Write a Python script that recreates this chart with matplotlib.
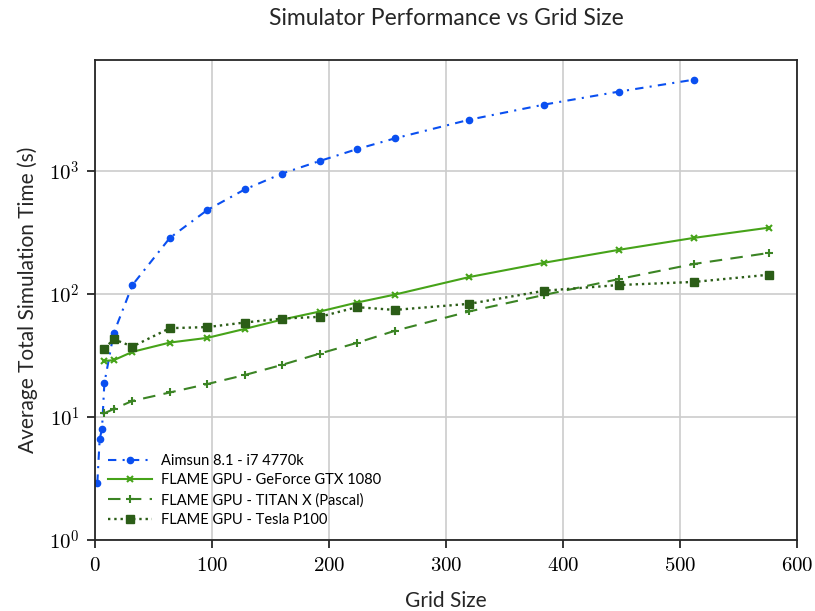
import matplotlib
matplotlib.use("Agg")
import math
import matplotlib.pyplot as plt
from matplotlib.ticker import FuncFormatter, FixedLocator, NullLocator

plt.rcParams['mathtext.fontset'] = 'cm'
plt.rcParams['font.family'] = ['Lato', 'DejaVu Sans']

aimsun_x = [2, 4, 6, 8, 16, 32, 64, 96, 128, 160, 192, 224, 256, 320, 384, 448, 512]
aimsun_y = [2.92, 6.6, 8.0, 18.8, 47.9, 118, 285, 480, 705, 950, 1200, 1500, 1830, 2600, 3450, 4400, 5500]

gpu_x = [8, 16, 32, 64, 96, 128, 160, 192, 224, 256, 320, 384, 448, 512, 576]
gtx_y = [28.5, 28.9, 33.8, 40.2, 43.9, 51.9, 61.8, 71.8, 85, 98.5, 137, 179, 228, 285, 345]
titan_y = [10.7, 11.6, 13.5, 15.8, 18.5, 21.9, 26.5, 32.7, 40, 50, 72, 98, 132, 175, 215]
tesla_y = [35.9, 42.8, 37.3, 52.6, 53.7, 58.5, 63, 65, 78, 74, 83, 106, 118, 125, 143]

labels = ["Aimsun 8.1 - i7 4770k",
          "FLAME GPU - GeForce GTX 1080",
          "FLAME GPU - TITAN X (Pascal)",
          "FLAME GPU - Tesla P100"]

x_ticks = [0, 100, 200, 300, 400, 500, 600]
y_ticks = [1, 10, 100, 1000]

fig = plt.figure(figsize=(8.15, 6.11), dpi=100)
ax = fig.add_axes([95/815, 1-540/611, (797-95)/815, (540-60)/611])

c_blue = '#0a4ff0'
c_gtx = '#46a319'
c_titan = '#3b8424'
c_tesla = '#2b5d17'

ax.plot(aimsun_x, aimsun_y, linestyle='-.', marker='o', markersize=4.5, color=c_blue, lw=1.5,
        label=labels[0], dashes=(4, 3, 1, 3))
ax.plot(gpu_x, gtx_y, linestyle='-', marker='x', markersize=4, mew=1.5, color=c_gtx, lw=1.5, label=labels[1])
ax.plot(gpu_x, titan_y, linestyle='--', marker='+', markersize=6, mew=1.5, color=c_titan, lw=1.5, label=labels[2], dashes=(6, 4))
ax.plot(gpu_x, tesla_y, linestyle=':', marker='s', markersize=5.5, color=c_tesla, lw=1.7, label=labels[3])

ax.set_yscale('log')
ax.set_xlim(0, 600)
ax.set_ylim(1, 10**3.9)

ax.xaxis.set_major_locator(FixedLocator(x_ticks))
ax.yaxis.set_major_locator(FixedLocator(y_ticks))
ax.yaxis.set_minor_locator(NullLocator())
ax.xaxis.set_major_formatter(FuncFormatter(lambda v, p: r'$%d$' % v))
ax.yaxis.set_major_formatter(FuncFormatter(lambda v, p: r'$10^{%d}$' % round(math.log10(v))))

ax.grid(True, color='#cccccc', lw=1.2)
ax.set_axisbelow(True)
for s in ax.spines.values():
    s.set_color('#262626')
    s.set_linewidth(1.3)
ax.tick_params(axis='both', which='major', direction='out', length=6, width=1.3,
               color='#262626', labelsize=15, pad=5)

ax.set_xlabel('Grid Size', fontsize=15, color='#262626', labelpad=11)
ax.set_ylabel('Average Total Simulation Time (s)', fontsize=15, color='#262626', labelpad=8)
ax.set_title('Simulator Performance vs Grid Size', fontsize=16.5, color='#262626', pad=25)

leg = ax.legend(loc='lower left', frameon=False, fontsize=10.5, handlelength=3.0,
                borderaxespad=0.5, labelspacing=0.38, handletextpad=0.6)

fig.savefig('out.png', dpi=100)
